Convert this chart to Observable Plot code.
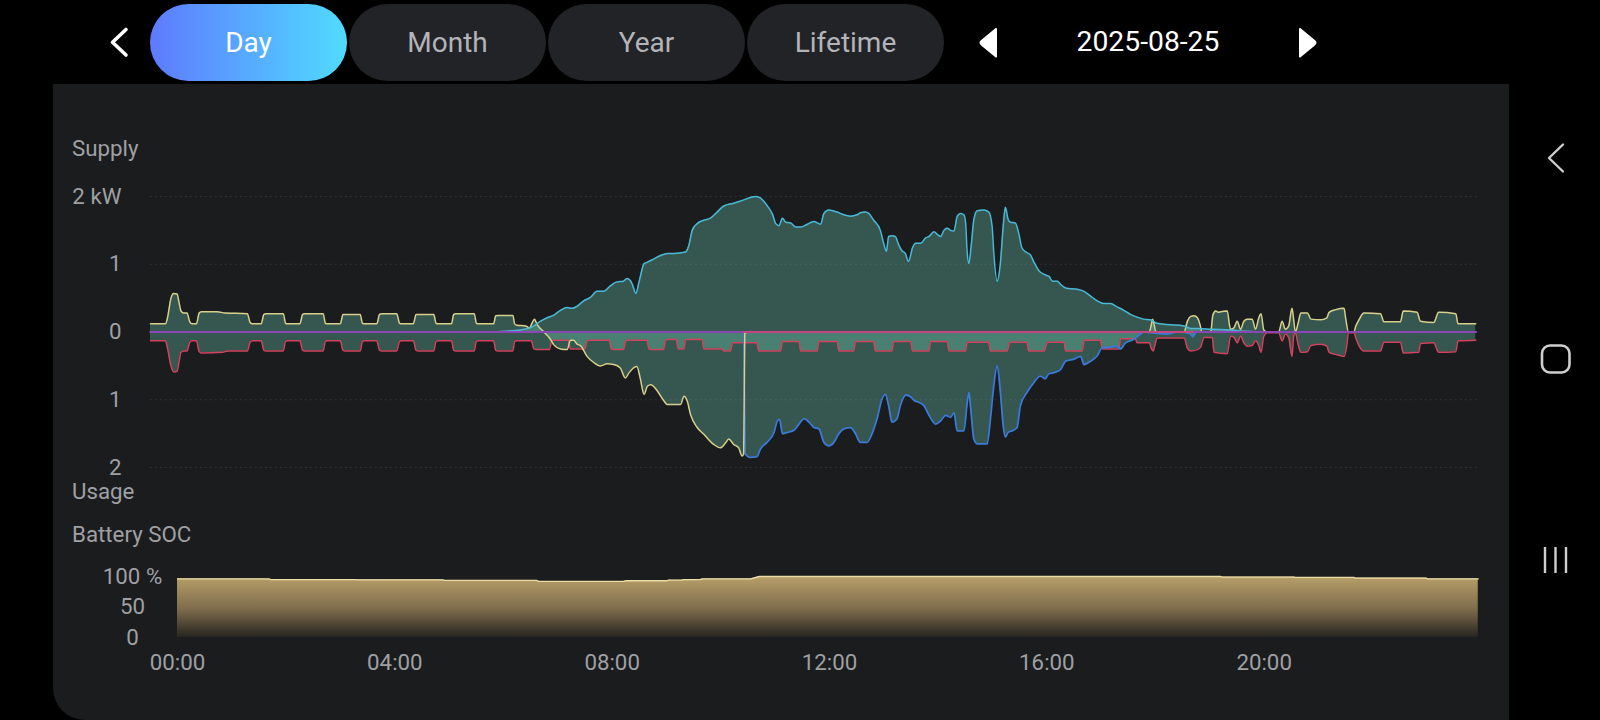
<!DOCTYPE html>
<html><head><meta charset="utf-8">
<script src="https://cdn.jsdelivr.net/npm/d3@7"></script>
<script src="https://cdn.jsdelivr.net/npm/@observablehq/plot@0.6"></script>
<style>
html,body{margin:0;padding:0;background:#000;width:1600px;height:720px;overflow:hidden;font-family:Roboto,"Noto Sans",sans-serif;}
#root{position:relative;width:1600px;height:720px;background:#000;overflow:hidden;}
.pill{position:absolute;top:4px;height:77px;width:197px;border-radius:38.5px;background:#222326;color:#b3b4b8;font-size:28px;display:flex;align-items:center;justify-content:center;}
.pill.active{background:linear-gradient(90deg,#5e7aff,#50dbff);color:#fff;}
#panel{position:absolute;left:53px;top:84px;width:1456px;height:636px;background:#1b1c1e;border-bottom-left-radius:32px;}
.lbl{position:absolute;color:#9fa0a4;font-size:22.3px;line-height:1;white-space:nowrap;}
.plot{position:absolute;left:0;}
#date{position:absolute;left:1048px;width:200px;top:22px;text-align:center;color:#fff;font-size:28.3px;line-height:40px;}
</style></head>
<body><div id="root"></div>
<script>
// ---------- data (hours, kW) ----------
const tabLabels = ["Day", "Month", "Year", "Lifetime"];
const dateLabel = "2025-08-25";
const sectionLabels = ["Supply", "Usage", "Battery SOC"];
const powerTicks = [2, 1, 0, -1, -2];
const socTicks = [0, 50, 100];
const hourTicks = [0, 4, 8, 12, 16, 20];

// PV production (supply, kW)
const pv = [[0,0],[6.2,0],[6.39,0.01],[6.69,0.03],[6.81,0.05],[6.93,0.09],[7.05,0.16],[7.17,0.21],[7.29,0.25],[7.41,0.32],[7.53,0.36],[7.62,0.35],[7.71,0.38],[7.83,0.46],[7.95,0.51],[8.07,0.6],[8.13,0.6],[8.19,0.6],[8.31,0.68],[8.43,0.74],[8.55,0.75],[8.61,0.79],[8.67,0.76],[8.71,0.7],[8.77,0.57],[8.83,0.74],[8.92,1.01],[8.98,1.03],[9.1,1.08],[9.22,1.13],[9.34,1.16],[9.46,1.16],[9.67,1.18],[9.73,1.28],[9.79,1.5],[9.88,1.6],[10.0,1.65],[10.12,1.68],[10.24,1.77],[10.36,1.86],[10.54,1.9],[10.72,1.95],[10.93,2.0],[11.02,1.98],[11.14,1.87],[11.24,1.74],[11.3,1.6],[11.36,1.57],[11.42,1.68],[11.48,1.62],[11.57,1.61],[11.66,1.55],[11.75,1.55],[11.87,1.59],[11.99,1.63],[12.11,1.59],[12.17,1.75],[12.26,1.8],[12.41,1.77],[12.53,1.73],[12.65,1.71],[12.77,1.73],[12.83,1.76],[12.92,1.77],[12.98,1.75],[13.07,1.65],[13.19,1.5],[13.25,1.31],[13.3,1.19],[13.34,1.41],[13.4,1.42],[13.46,1.41],[13.52,1.29],[13.58,1.2],[13.64,1.16],[13.7,1.04],[13.77,1.24],[13.83,1.31],[13.92,1.31],[14.01,1.39],[14.07,1.41],[14.16,1.48],[14.22,1.44],[14.28,1.41],[14.34,1.5],[14.4,1.53],[14.46,1.5],[14.52,1.49],[14.58,1.71],[14.64,1.75],[14.7,1.73],[14.73,1.62],[14.76,1.17],[14.79,1.01],[14.83,1.26],[14.88,1.66],[14.94,1.79],[15.06,1.8],[15.15,1.77],[15.21,1.56],[15.24,1.17],[15.3,0.75],[15.36,1.02],[15.41,1.56],[15.45,1.84],[15.5,1.66],[15.54,1.62],[15.63,1.61],[15.69,1.46],[15.75,1.24],[15.84,1.17],[15.9,1.14],[15.96,1.04],[16.06,0.9],[16.15,0.85],[16.24,0.82],[16.3,0.75],[16.39,0.75],[16.45,0.7],[16.54,0.65],[16.75,0.63],[16.87,0.6],[16.99,0.53],[17.11,0.46],[17.23,0.42],[17.35,0.42],[17.47,0.37],[17.59,0.32],[17.71,0.26],[17.83,0.22],[17.95,0.19],[18.07,0.18],[18.19,0.13],[18.37,0.11],[18.68,0.09],[18.8,0.05],[18.92,0.05],[19.16,0.04],[19.52,0.03],[19.8,0.01],[20.2,0],[23.95,0]];

// Battery power (+ discharge = supply, - charge = usage, kW)
const battery = [[0,0.12],[0.27,0.12],[0.31,0.22],[0.37,0.5],[0.42,0.57],[0.48,0.56],[0.52,0.42],[0.55,0.31],[0.6,0.28],[0.66,0.28],[0.71,0.15],[0.75,0.12],[0.83,0.12],[0.88,0.28],[0.92,0.3],[1.2,0.3],[1.35,0.28],[1.75,0.27],[1.8,0.14],[1.84,0.12],[2.0,0.12],[2.05,0.26],[2.09,0.27],[2.4,0.27],[2.44,0.13],[2.47,0.12],[2.7,0.12],[2.75,0.26],[2.79,0.27],[3.12,0.27],[3.16,0.13],[3.19,0.12],[3.43,0.12],[3.48,0.26],[3.52,0.26],[3.79,0.26],[3.83,0.13],[3.86,0.12],[4.09,0.12],[4.14,0.26],[4.18,0.27],[4.45,0.27],[4.5,0.13],[4.53,0.12],[4.75,0.12],[4.8,0.26],[4.84,0.26],[5.12,0.26],[5.16,0.13],[5.19,0.12],[5.44,0.12],[5.48,0.26],[5.52,0.27],[5.85,0.27],[5.89,0.13],[5.92,0.12],[6.2,0.12],[6.24,0.24],[6.28,0.245],[6.55,0.245],[6.58,0.12],[6.62,0.1],[6.78,0.09],[6.85,0.06],[6.9,0.14],[6.94,0.19],[6.97,0.14],[6.99,0.11],[7.11,0],[7.23,-0.11],[7.29,-0.19],[7.41,-0.25],[7.53,-0.26],[7.59,-0.12],[7.65,-0.12],[7.71,-0.18],[7.77,-0.2],[7.89,-0.36],[8.01,-0.45],[8.13,-0.5],[8.25,-0.47],[8.37,-0.48],[8.49,-0.53],[8.58,-0.68],[8.65,-0.6],[8.73,-0.53],[8.79,-0.51],[8.85,-0.68],[8.92,-0.92],[8.98,-0.8],[9.04,-0.78],[9.16,-0.87],[9.28,-1.02],[9.34,-1.07],[9.58,-1.07],[9.64,-0.95],[9.7,-1.02],[9.76,-1.22],[9.88,-1.41],[10.0,-1.51],[10.18,-1.66],[10.3,-1.71],[10.39,-1.64],[10.45,-1.58],[10.54,-1.66],[10.63,-1.71],[10.69,-1.83],[10.72,-1.8],[10.74,-0.02],[10.8,0],[18.05,0],[18.09,0.12],[18.11,0.19],[18.14,0.1],[18.17,0],[18.68,0],[18.74,0.16],[18.8,0.23],[18.86,0.24],[18.92,0.21],[18.97,0.1],[19.0,0],[19.16,0],[19.2,0.25],[19.25,0.31],[19.3,0.29],[19.34,0.3],[19.46,0.31],[19.5,0.1],[19.52,0.04],[19.58,0.06],[19.64,0.16],[19.7,0.04],[19.76,0.16],[19.82,0.19],[19.91,0.19],[19.97,0.04],[20.03,0.21],[20.07,0.27],[20.12,0.03],[20.18,0],[20.39,0],[20.45,0.16],[20.51,0.04],[20.57,0.09],[20.63,0.35],[20.66,0.18],[20.69,0],[20.74,0.13],[20.79,0.28],[20.91,0.28],[20.97,0.19],[21.15,0.18],[21.26,0.21],[21.3,0.29],[21.42,0.33],[21.57,0.35],[21.6,0.2],[21.65,0],[21.75,0],[21.78,0.08],[21.84,0.18],[21.93,0.28],[22.23,0.27],[22.29,0.15],[22.59,0.15],[22.64,0.31],[22.89,0.29],[22.95,0.16],[23.19,0.14],[23.28,0.29],[23.59,0.27],[23.63,0.12],[23.95,0.12]];

// Home load (usage, kW)
const load = [[0,0.13],[0.27,0.13],[0.31,0.25],[0.37,0.5],[0.42,0.59],[0.48,0.58],[0.52,0.42],[0.55,0.3],[0.6,0.28],[0.66,0.28],[0.71,0.15],[0.75,0.13],[0.83,0.13],[0.88,0.29],[0.92,0.31],[1.3,0.3],[1.4,0.28],[1.75,0.28],[1.8,0.15],[1.84,0.13],[2.0,0.13],[2.05,0.27],[2.09,0.28],[2.4,0.28],[2.44,0.14],[2.47,0.13],[2.7,0.13],[2.75,0.27],[2.79,0.28],[3.12,0.28],[3.16,0.14],[3.19,0.13],[3.43,0.13],[3.48,0.27],[3.52,0.28],[3.79,0.28],[3.83,0.14],[3.86,0.13],[4.09,0.13],[4.14,0.27],[4.18,0.28],[4.45,0.28],[4.5,0.14],[4.53,0.13],[4.75,0.13],[4.8,0.27],[4.84,0.28],[5.12,0.28],[5.16,0.14],[5.19,0.13],[5.44,0.13],[5.48,0.27],[5.52,0.28],[5.85,0.28],[5.89,0.14],[5.92,0.13],[6.2,0.13],[6.24,0.27],[6.28,0.28],[6.55,0.28],[6.58,0.14],[6.62,0.13],[6.88,0.13],[6.93,0.25],[6.97,0.26],[7.21,0.26],[7.25,0.13],[7.28,0.12],[7.55,0.12],[7.59,0.25],[7.63,0.25],[7.85,0.25],[7.89,0.13],[7.92,0.12],[8.29,0.12],[8.33,0.25],[8.37,0.26],[8.55,0.26],[8.59,0.13],[8.62,0.12],[8.97,0.12],[9.01,0.25],[9.05,0.26],[9.27,0.26],[9.31,0.12],[9.34,0.11],[9.5,0.11],[9.54,0.25],[9.64,0.25],[9.67,0.11],[9.97,0.11],[10.0,0.25],[10.33,0.25],[10.36,0.28],[10.48,0.28],[10.52,0.16],[10.96,0.16],[10.99,0.28],[11.39,0.28],[11.42,0.14],[11.72,0.14],[11.75,0.28],[12.05,0.28],[12.08,0.14],[12.41,0.14],[12.44,0.28],[12.71,0.28],[12.74,0.14],[13.07,0.14],[13.1,0.28],[13.4,0.28],[13.43,0.14],[13.74,0.14],[13.77,0.28],[14.07,0.28],[14.1,0.14],[14.4,0.14],[14.43,0.28],[14.73,0.28],[14.76,0.15],[15.15,0.15],[15.18,0.28],[15.48,0.28],[15.53,0.15],[15.84,0.15],[15.87,0.28],[16.15,0.28],[16.21,0.15],[16.51,0.15],[16.54,0.28],[16.84,0.28],[16.87,0.12],[17.17,0.12],[17.2,0.25],[17.5,0.25],[17.53,0.1],[17.8,0.1],[17.83,0.16],[18.05,0.16],[18.09,0.25],[18.12,0.28],[18.15,0.2],[18.19,0.09],[18.68,0.09],[18.74,0.24],[18.8,0.28],[18.92,0.26],[18.98,0.22],[19.04,0.08],[19.19,0.08],[19.22,0.3],[19.46,0.32],[19.52,0.06],[19.58,0.08],[19.64,0.16],[19.7,0.06],[19.76,0.16],[19.82,0.21],[19.91,0.2],[19.97,0.13],[20.03,0.2],[20.07,0.3],[20.12,0.06],[20.18,0.01],[20.39,0.01],[20.45,0.13],[20.51,0.03],[20.57,0.08],[20.63,0.36],[20.66,0.06],[20.69,0.01],[20.74,0.18],[20.79,0.3],[20.91,0.29],[20.97,0.2],[21.15,0.18],[21.26,0.21],[21.3,0.3],[21.42,0.33],[21.57,0.36],[21.62,0.2],[21.65,0.01],[21.75,0.01],[21.78,0.08],[21.84,0.2],[21.93,0.28],[22.23,0.28],[22.29,0.15],[22.59,0.15],[22.64,0.31],[22.92,0.3],[22.95,0.17],[23.19,0.16],[23.28,0.3],[23.59,0.29],[23.63,0.13],[23.95,0.12]];

// Grid power (+ import = supply, - export = usage, kW)
const grid = [[0,0],[10.72,0],[10.75,-1.8],[10.84,-1.85],[10.96,-1.84],[11.02,-1.73],[11.14,-1.63],[11.27,-1.48],[11.33,-1.31],[11.37,-1.29],[11.42,-1.5],[11.51,-1.48],[11.63,-1.45],[11.72,-1.36],[11.81,-1.28],[11.9,-1.33],[11.99,-1.41],[12.08,-1.43],[12.17,-1.63],[12.26,-1.68],[12.35,-1.63],[12.44,-1.5],[12.53,-1.43],[12.65,-1.41],[12.74,-1.5],[12.83,-1.63],[12.95,-1.63],[13.04,-1.5],[13.13,-1.28],[13.22,-0.99],[13.28,-0.92],[13.34,-1.09],[13.4,-1.33],[13.49,-1.28],[13.55,-1.09],[13.65,-0.93],[13.74,-0.96],[13.8,-1.01],[13.89,-1.04],[13.98,-1.09],[14.07,-1.23],[14.19,-1.36],[14.28,-1.31],[14.37,-1.23],[14.46,-1.26],[14.52,-1.19],[14.58,-1.46],[14.7,-1.46],[14.76,-1.04],[14.79,-0.89],[14.83,-1.19],[14.88,-1.58],[14.94,-1.65],[15.12,-1.65],[15.18,-1.28],[15.24,-0.79],[15.3,-0.5],[15.36,-0.89],[15.41,-1.38],[15.45,-1.55],[15.5,-1.48],[15.57,-1.46],[15.66,-1.41],[15.72,-1.09],[15.84,-0.89],[15.96,-0.75],[16.08,-0.65],[16.17,-0.69],[16.23,-0.62],[16.33,-0.6],[16.45,-0.55],[16.54,-0.43],[16.69,-0.4],[16.81,-0.36],[16.87,-0.48],[16.99,-0.43],[17.11,-0.35],[17.2,-0.23],[17.29,-0.23],[17.47,-0.21],[17.53,-0.25],[17.62,-0.16],[17.74,-0.12],[17.83,-0.07],[17.95,0],[18.2,-0.02],[18.35,-0.03],[18.55,0],[18.78,-0.02],[18.84,-0.07],[18.9,0],[23.95,0]];

// Battery state of charge (%)
const soc = [[0,96],[1.68,96],[1.72,95],[3.28,95],[3.32,94.5],[4.88,94.5],[4.92,93.5],[6.61,93.5],[6.65,92],[8.21,92],[8.25,93],[9.0,93],[9.04,94],[9.28,94],[9.32,95],[9.62,95],[9.66,96],[10.55,96],[10.71,100],[19.2,100],[19.23,99],[20.55,99],[20.58,98.5],[21.65,98.5],[21.68,97.5],[22.98,97.5],[23.01,96],[23.94,96]];

// ---------- build ----------
const rows = a => a.map(([t, v]) => ({t, v}));
const pvR = rows(pv), batR = rows(battery), loadR = rows(load), gridR = rows(grid), socR = rows(soc);
const exportZero = gridR.filter(d => d.v < 0 || d.t === 10.72 || d.t === 17.95).map(d => ({t: d.t, v: 0}));

const root = document.getElementById("root");
root.innerHTML = `
<div id="panel"></div>
<svg width="1600" height="90" style="position:absolute;left:0;top:0">
  <polyline points="126,29.5 112.5,42.3 126,55" fill="none" stroke="#fff" stroke-width="3.6" stroke-linecap="round" stroke-linejoin="round"/>
  <path d="M996,29 L981.5,41 Q979.5,42.7 981.5,44.4 L996,56.5 Z" fill="#fff" stroke="#fff" stroke-width="2" stroke-linejoin="round"/>
  <path d="M1300,29 L1314.5,41 Q1316.5,42.7 1314.5,44.4 L1300,56.5 Z" fill="#fff" stroke="#fff" stroke-width="2" stroke-linejoin="round"/>
</svg>
<svg width="60" height="720" style="position:absolute;left:1520px;top:0">
  <polyline points="43,144.5 29,158 43,171.5" fill="none" stroke="#cfcfcf" stroke-width="2.4" stroke-linecap="round" stroke-linejoin="round"/>
  <rect x="22" y="345.5" width="27.5" height="27" rx="8" fill="none" stroke="#cfcfcf" stroke-width="2.6"/>
  <line x1="25" y1="547" x2="25" y2="573" stroke="#cfcfcf" stroke-width="2.4"/>
  <line x1="35.5" y1="547" x2="35.5" y2="573" stroke="#cfcfcf" stroke-width="2.4"/>
  <line x1="46" y1="547" x2="46" y2="573" stroke="#cfcfcf" stroke-width="2.4"/>
</svg>`;

tabLabels.forEach((t, i) => {
  const d = document.createElement("div");
  d.className = "pill" + (i === 0 ? " active" : "");
  d.style.left = (150 + i * 199) + "px";
  d.textContent = t;
  root.appendChild(d);
});
const dd = document.createElement("div");
dd.id = "date"; dd.textContent = dateLabel; root.appendChild(dd);

[[sectionLabels[0], 137.3], [sectionLabels[1], 480.2], [sectionLabels[2], 523.3]].forEach(([t, top]) => {
  const d = document.createElement("div");
  d.className = "lbl"; d.style.left = "72px"; d.style.top = top + "px"; d.textContent = t;
  root.appendChild(d);
});

const FILL = "rgb(120,225,197)";
const FO = 0.3;
const TXT = "#9fa0a4";
const FS = 22.3;
const C = {pv: "#48b9d8", bat: "#d9cf8c", load: "#d2435f", grid: "#3b7ad9", zero: "#8b46b6", zeroExp: "#c4457f"};
const common = {x: "t", curve: "monotone-x"};

const power = Plot.plot({
  width: 1600, height: 311,
  marginLeft: 150, marginRight: 122, marginTop: 20, marginBottom: 20,
  x: {domain: [0, 24], axis: null},
  y: {domain: [-2, 2], axis: null},
  style: {background: "transparent", fontFamily: "Roboto, sans-serif", fontSize: FS + "px", color: TXT, overflow: "visible"},
  marks: [
    Plot.ruleY(powerTicks, {stroke: "#35363a", strokeDasharray: "1.5,3.5", strokeWidth: 1}),
    Plot.axisY(powerTicks, {label: null, tickSize: 0, tickPadding: 29, fill: TXT, fontSize: FS, tickFormat: d => d === 2 ? "2 kW" : String(Math.abs(d))}),
    Plot.areaY(pvR, {...common, y1: 0, y2: "v", fill: FILL, fillOpacity: FO}),
    Plot.areaY(batR, {...common, y1: 0, y2: "v", fill: FILL, fillOpacity: FO}),
    Plot.areaY(loadR, {...common, y1: 0, y2: d => -d.v, fill: FILL, fillOpacity: FO}),
    Plot.areaY(gridR, {...common, y1: 0, y2: "v", fill: FILL, fillOpacity: FO}),
    Plot.lineY(loadR, {...common, y: d => -d.v, stroke: C.load, strokeWidth: 1.5}),
    Plot.lineY(gridR, {...common, y: "v", stroke: C.grid, strokeWidth: 1.8}),
    Plot.lineY(batR, {...common, y: "v", stroke: C.bat, strokeWidth: 1.5}),
    Plot.lineY(pvR, {...common, y: "v", stroke: C.pv, strokeWidth: 1.5}),
    Plot.lineY([{t: 0, v: 0}, {t: 23.95, v: 0}], {x: "t", y: "v", stroke: C.zero, strokeWidth: 2}),
    Plot.lineY(exportZero, {x: "t", y: "v", stroke: C.zeroExp, strokeWidth: 2})
  ]
});
power.classList.add("plot");
power.style.top = "176px";
root.appendChild(power);

const socPlot = Plot.plot({
  width: 1600, height: 131,
  marginLeft: 177, marginRight: 119, marginTop: 20, marginBottom: 50,
  x: {domain: [0, 24], axis: null},
  y: {domain: [0, 100], axis: null},
  style: {background: "transparent", fontFamily: "Roboto, sans-serif", fontSize: FS + "px", color: TXT, overflow: "visible"},
  marks: [
    Plot.areaY(socR, {x: "t", y1: 0, y2: "v", fill: "url(#socGrad)"}),
    Plot.lineY(socR, {x: "t", y: "v", stroke: "#ecdca6", strokeWidth: 1.3}),
    Plot.axisY(socTicks, {label: null, tickSize: 0, tickPadding: 45, textAnchor: "middle", fill: TXT, fontSize: FS, tickFormat: d => d === 100 ? "100 %" : String(d)}),
    Plot.axisX(hourTicks, {label: null, tickSize: 0, tickPadding: 16.5, fill: TXT, fontSize: FS, tickFormat: d => String(d).padStart(2, "0") + ":00"})
  ]
});
const defs = d3.select(socPlot).insert("defs", ":first-child");
const g = defs.append("linearGradient").attr("id", "socGrad").attr("x1", 0).attr("y1", 0).attr("x2", 0).attr("y2", 1);
g.append("stop").attr("offset", "0%").attr("stop-color", "#b9a06a");
g.append("stop").attr("offset", "55%").attr("stop-color", "#7c6b4b");
g.append("stop").attr("offset", "100%").attr("stop-color", "#27251f");
socPlot.classList.add("plot");
socPlot.style.top = "556px";
root.appendChild(socPlot);
</script></body></html>
